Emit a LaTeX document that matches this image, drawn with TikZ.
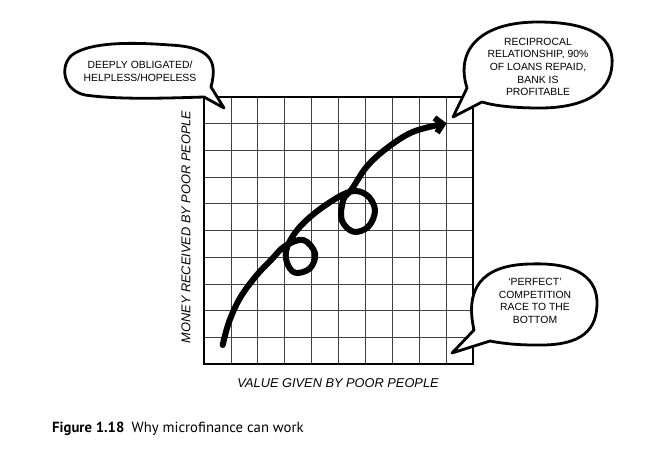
\documentclass[tikz,border=0pt]{standalone}
\usepackage{fontspec}
\setmainfont{Liberation Sans}
\newfontfamily\capfont{PT Sans}
\usetikzlibrary{arrows.meta}
\begin{document}
\begin{tikzpicture}[x=1pt,y=-1pt,
  bubble/.style={draw=black, fill=white, line width=2.8pt, line join=round},
  btext/.style={align=center, font=\fontsize{10.4}{12.6}\selectfont, inner sep=0pt},
  axlabel/.style={font=\itshape\fontsize{12.8}{14}\selectfont, inner sep=0pt},
  gridline/.style={draw=black!75, line width=0.8pt},
  frameline/.style={draw=black, line width=1.4pt},
  curve/.style={draw=black, line width=6pt, line cap=round, line join=round}]
\useasboundingbox[fill=white] (0,0) rectangle (660,458);

% grid
\foreach \i in {1,...,9} {
  \draw[gridline] (204+26.9*\i,97) -- (204+26.9*\i,364);
  \draw[gridline] (204,97+26.7*\i) -- (473,97+26.7*\i);
}
\draw[frameline] (204,97) rectangle (473,364);

% curve
\draw[curve, -{Straight Barb[length=7pt,width=15pt]}] plot[smooth, tension=0.6] coordinates {
  (222.7,345) (229,322) (240,298) (256,276) (272,259) (285,246)
  (303.3,240) (315,253.3) (310,268.3) (295,272.7) (286.7,261.7) (287.3,246.7)
  (300,226.7) (323.3,206.7) (350,191.7)
  (366.7,195) (375,210) (368.3,226.7) (353.3,231.7) (341.7,220) (343.3,200) (351.7,189.3)
  (366.7,166.7) (386.7,148.3) (413.3,131.7) (446.7,123.3)};

% bubble 1
\draw[bubble] (211,87) .. controls (218,60) and (210,47) .. (170,45)
  .. controls (130,42) and (90,42) .. (72,55)
  .. controls (60,65) and (62,90) .. (85,95)
  .. controls (120,100) and (170,98) .. (204,97) -- (224,108) -- cycle;
\node[btext] (b1) at (140,71) {DEEPLY OBLIGATED/\\HELPLESS/HOPELESS};

% bubble 2
\draw[bubble] (467,88) .. controls (455,50) and (480,22) .. (538,22)
  .. controls (595,22) and (614,40) .. (612,65)
  .. controls (610,95) and (580,108) .. (540,108)
  .. controls (515,108) and (495,106) .. (482,102) -- (453,117) -- cycle;
\node[btext] (b2) at (538,67) {RECIPROCAL\\RELATIONSHIP, 90\%\\OF LOANS REPAID,\\BANK IS\\PROFITABLE};

% bubble 3
\draw[bubble] (474,330) .. controls (465,290) and (480,265) .. (530,264)
  .. controls (580,262) and (598,280) .. (597,305)
  .. controls (596,335) and (575,346) .. (535,345)
  .. controls (515,345) and (500,343) .. (490,341) -- (452,353) -- cycle;
\node[btext] (b3) at (535,301) {`PERFECT'\\COMPETITION\\RACE TO THE\\BOTTOM};

% axis labels
\node[axlabel, rotate=90] (ylab) at (186,227) {MONEY RECEIVED BY POOR PEOPLE};
\node[axlabel] (xlab) at (338,383) {VALUE GIVEN BY POOR PEOPLE};

% caption
\node[anchor=base west, inner sep=0pt, font=\capfont\fontsize{14.7}{16}\selectfont] (cap) at (52,432) {\textbf{Figure 1.18}\enspace Why microfinance can work};
\end{tikzpicture}
\end{document}
